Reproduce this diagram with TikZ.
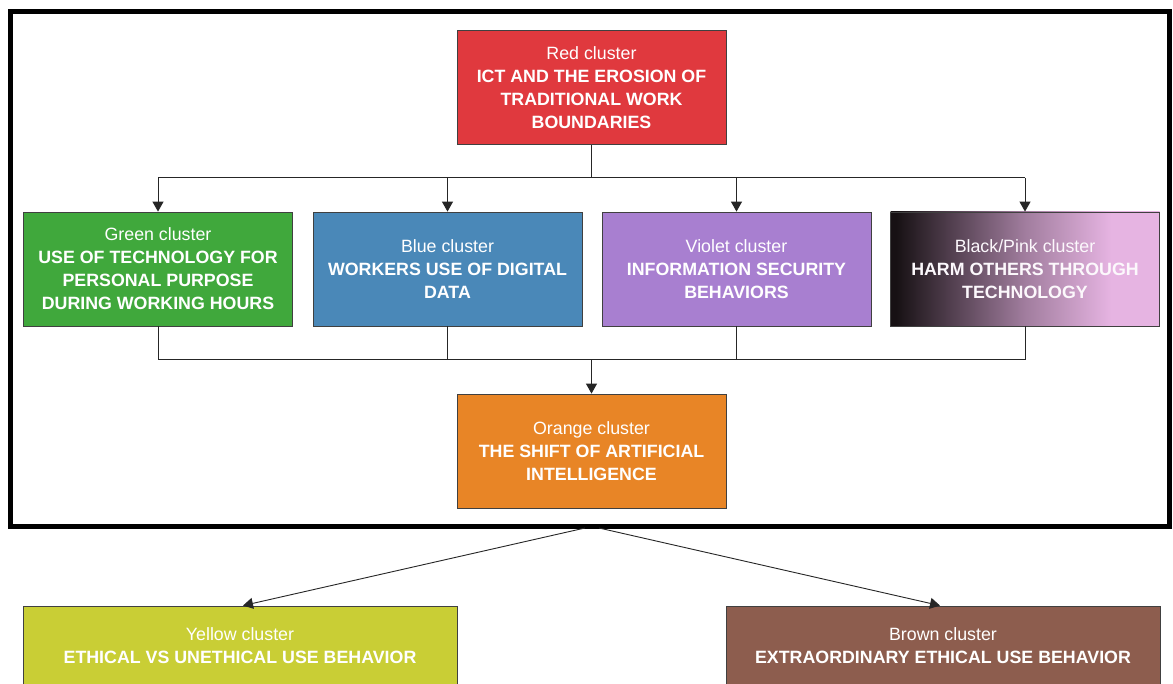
\documentclass[tikz,border=0pt]{standalone}
\usepackage{fontspec}
\setmainfont{Liberation Sans}
\usetikzlibrary{arrows.meta}
\definecolor{cred}{HTML}{E0393E}
\definecolor{cgreen}{HTML}{40A83C}
\definecolor{cblue}{HTML}{4A88B8}
\definecolor{cviolet}{HTML}{A87FD0}
\definecolor{corange}{HTML}{E88526}
\definecolor{cyellow}{HTML}{C9CE35}
\definecolor{cbrown}{HTML}{8D5D4E}
\definecolor{boxline}{HTML}{404040}
\definecolor{bpA}{HTML}{171114}
\definecolor{bpM}{HTML}{A17D9E}
\definecolor{bpP}{HTML}{E6B4E2}
\pgfdeclarehorizontalshading{bpshade}{100bp}{color(0bp)=(bpA); color(26bp)=(bpA); color(50bp)=(bpM); color(66bp)=(bpP); color(100bp)=(bpP)}
\tikzset{
  box/.style={draw=boxline, line width=0.8pt, minimum width=269, minimum height=114,
    text=white, align=center, font=\fontsize{17.8}{23}\selectfont, inner sep=0pt},
  conn/.style={line width=1pt, draw=black!85},
  arr/.style={conn, -{Triangle[length=10pt,width=11pt]}},
  frame/.style={draw=black, line width=5pt, inner sep=0pt, minimum width=1158.5, minimum height=514.5}
}
\begin{document}
\begin{tikzpicture}[x=1pt,y=-1pt]
\useasboundingbox (0,0) rectangle (1173,684);
\clip (0,0) rectangle (1173,684);
\fill[white] (0,0) rectangle (1173,684);
\node[frame] (frm) at (589.75,268.75) {};
\node[box, fill=cred] (red) at (591.5,87.5) {Red cluster\\\textbf{ICT AND THE EROSION OF}\\\textbf{TRADITIONAL WORK}\\\textbf{BOUNDARIES}};
\node[box, fill=cgreen] (green) at (158,269) {Green cluster\\\textbf{USE OF TECHNOLOGY FOR}\\\textbf{PERSONAL PURPOSE}\\\textbf{DURING WORKING HOURS}};
\node[box, fill=cblue] (blue) at (447.5,269) {Blue cluster\\\textbf{WORKERS USE OF DIGITAL}\\\textbf{DATA}};
\node[box, fill=cviolet] (violet) at (736.5,269) {Violet cluster\\\textbf{INFORMATION SECURITY}\\\textbf{BEHAVIORS}};
\node[box, shading=bpshade, shading angle=0, text=white!90!bpP] (pink) at (1025,269) {Black/Pink cluster\\\textbf{HARM OTHERS THROUGH}\\\textbf{TECHNOLOGY}};
\node[box, fill=corange] (orange) at (591.5,451) {Orange cluster\\\textbf{THE SHIFT OF ARTIFICIAL}\\\textbf{INTELLIGENCE}};
\node[box, fill=cyellow, minimum width=434, minimum height=80] (yellow) at (240,646) {Yellow cluster\\\textbf{ETHICAL VS UNETHICAL USE BEHAVIOR}};
\node[box, fill=cbrown, minimum width=434, minimum height=80] (brown) at (943,646) {Brown cluster\\\textbf{EXTRAORDINARY ETHICAL USE BEHAVIOR}};
% top connectors
\coordinate (j1) at (591.5,178);
\draw[conn] (red.south) -- (j1);
\draw[conn] (green.north |- j1) -- (pink.north |- j1);
\foreach \n in {green,blue,violet,pink}{
  \draw[arr] (\n.north |- j1) -- (\n.north);
}
% bottom connectors
\coordinate (j2) at (591.5,360);
\foreach \n in {green,blue,violet,pink}{
  \draw[conn] (\n.south) -- (\n.south |- j2);
}
\draw[conn] (green.south |- j2) -- (pink.south |- j2);
\draw[arr] (j2) -- (orange.north);
% frame to bottom clusters
\coordinate (fl) at (585,528);
\coordinate (fr) at (599,528);
\draw[arr, line width=0.9pt] (fl) -- ([xshift=3]yellow.north);
\draw[arr, line width=0.9pt] (fr) -- ([xshift=-3]brown.north);
\end{tikzpicture}
\end{document}
